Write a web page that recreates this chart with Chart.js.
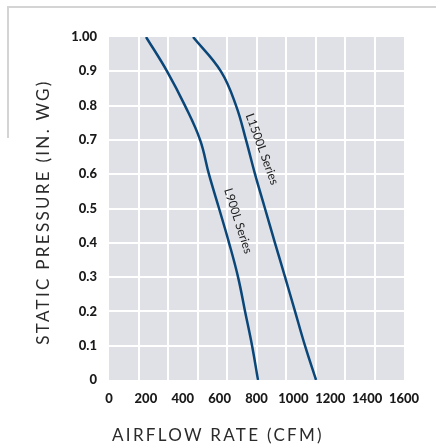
<!DOCTYPE html>
<html lang="en">
<head>
    <meta charset="UTF-8">
    <title>Static Pressure vs Airflow</title>
    <script src="https://cdn.jsdelivr.net/npm/chart.js"></script>
    <style>
        body { margin: 0; background: #fff; }
        #wrap { position: relative; width: 436px; height: 446px; }
        .frame-top { position: absolute; left: 7px; top: 6px; width: 429px; height: 2px; background: #d4d4d4; }
        .frame-left { position: absolute; left: 7px; top: 6px; width: 2px; height: 132px; background: #d4d4d4; }
        .axis-title { position: absolute; font-family: Lato, sans-serif; font-size: 17px; color: #2b2b2b; letter-spacing: 2.3px; white-space: nowrap; }
        #xTitle { left: 0; width: 436px; top: 424px; text-align: center; }
        #yTitle { left: 42px; top: 212px; transform: translate(-50%, -50%) rotate(-90deg); }
    </style>
</head>
<body>
<div id="wrap">
    <canvas id="pressureChart" width="436" height="446"></canvas>
    <div class="frame-top"></div>
    <div class="frame-left"></div>
    <div class="axis-title" id="xTitle">AIRFLOW RATE (CFM)</div>
    <div class="axis-title" id="yTitle">STATIC PRESSURE (IN. WG)</div>
</div>
<script>
    // static pressure levels the curves were read at (in. wg)
    const pressureLevels = [1.0, 0.9, 0.8, 0.7, 0.6, 0.5, 0.4, 0.3, 0.2, 0.1, 0];
    // airflow (cfm) at each pressure level
    const airflowL900 = [201, 315, 412, 494, 542, 597, 651, 700, 738, 776, 808];
    const airflowL1500 = [456, 607, 689, 743, 792, 846, 900, 955, 1009, 1063, 1123];
    const seriesNames = ['L900L Series', 'L1500L Series'];

    const xTickLabels = ['0', '200', '400', '600', '800', '1000', '1200', '1400', '1600'];
    const yTickLabels = ['0', '0.1', '0.2', '0.3', '0.4', '0.5', '0.6', '0.7', '0.8', '0.9', '1.00'];

    const curveColor = '#0b4679';

    function toPoints(flows) {
        return flows.map((f, i) => ({ x: f, y: pressureLevels[i] }));
    }

    const plotBackground = {
        id: 'plotBackground',
        beforeDraw(chart) {
            const { ctx, chartArea: a } = chart;
            ctx.save();
            ctx.fillStyle = '#dfe1e6';
            ctx.fillRect(a.left, a.top, a.right - a.left, a.bottom - a.top);
            ctx.restore();
        }
    };

    // names written along each curve
    const curveLabels = {
        id: 'curveLabels',
        afterDatasetsDraw(chart, args, opts) {
            const { ctx, scales } = chart;
            ctx.save();
            ctx.font = '12px Lato, sans-serif';
            ctx.fillStyle = '#222';
            ctx.textAlign = 'center';
            ctx.textBaseline = 'middle';
            opts.items.forEach(item => {
                const px = scales.x.getPixelForValue(item.x);
                const py = scales.y.getPixelForValue(item.y);
                ctx.save();
                ctx.translate(px, py);
                ctx.rotate(item.angle * Math.PI / 180);
                ctx.fillText(seriesNames[item.series], 0, 0);
                ctx.restore();
            });
            ctx.restore();
        }
    };

    const tickFont = { family: 'Lato, sans-serif', size: 13, weight: 900 };
    const hideEdges = c => (c.index === 0 || c.index === c.scale.ticks.length - 1) ? 'rgba(0,0,0,0)' : '#ffffff';

    function drawChart() {
        new Chart(document.getElementById('pressureChart'), {
            type: 'line',
            data: {
                datasets: [
                    { label: seriesNames[0], data: toPoints(airflowL900) },
                    { label: seriesNames[1], data: toPoints(airflowL1500) }
                ].map(ds => Object.assign(ds, {
                    borderColor: curveColor,
                    borderWidth: 2.5,
                    pointRadius: 0,
                    fill: false,
                    tension: 0.4
                }))
            },
            options: {
                responsive: false,
                animation: false,
                layout: { padding: { top: 37, right: 32, left: 0, bottom: 0 } },
                plugins: {
                    legend: { display: false },
                    tooltip: { enabled: false },
                    curveLabels: {
                        items: [
                            { series: 1, x: 830, y: 0.673, angle: 70 },
                            { series: 0, x: 700, y: 0.464, angle: 72 }
                        ]
                    }
                },
                scales: {
                    x: {
                        type: 'linear',
                        position: 'bottom',
                        min: 0,
                        max: 1600,
                        border: { display: false },
                        grid: { display: false, drawTicks: false },
                        ticks: {
                            stepSize: 200,
                            padding: 11,
                            maxRotation: 0,
                            color: '#1a1a1a',
                            font: tickFont,
                            callback: (v, i) => xTickLabels[i]
                        },
                        afterFit: s => { s.height = 66; }
                    },
                    xg: {
                        type: 'linear',
                        position: 'bottom',
                        min: 0,
                        max: 1600,
                        border: { display: false },
                        grid: { color: hideEdges, lineWidth: 2, drawTicks: false },
                        ticks: { display: false, stepSize: 160 },
                        afterFit: s => { s.height = 0; }
                    },
                    y: {
                        min: 0,
                        max: 1,
                        border: { display: false },
                        grid: { color: hideEdges, lineWidth: 2, drawTicks: false },
                        ticks: {
                            stepSize: 0.1,
                            padding: 12,
                            color: '#1a1a1a',
                            font: tickFont,
                            callback: (v, i) => yTickLabels[i]
                        },
                        afterFit: s => { s.width = 109; }
                    }
                }
            },
            plugins: [plotBackground, curveLabels]
        });
    }

    Promise.all([
        document.fonts.load('900 13px Lato'),
        document.fonts.load('12px Lato')
    ]).then(drawChart, drawChart);
</script>
</body>
</html>
